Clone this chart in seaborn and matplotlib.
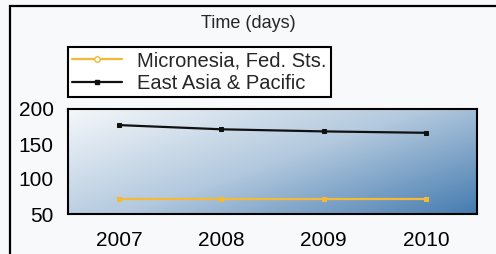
import numpy as np
import pandas as pd
import seaborn as sns
import matplotlib.pyplot as plt
from matplotlib.colors import LinearSegmentedColormap
from matplotlib.patches import Rectangle

# data
years = [2007, 2008, 2009, 2010]
micronesia = [72, 72, 72, 72]
east_asia = [177, 171, 168, 166]
series_names = ['Micronesia, Fed. Sts.', 'East Asia & Pacific']

df = pd.DataFrame({
    'year': years * 2,
    'days': micronesia + east_asia,
    'series': [series_names[0]] * 4 + [series_names[1]] * 4,
})

sns.set_style('white')
plt.rcParams['font.family'] = ['Liberation Sans', 'DejaVu Sans']

fig = plt.figure(figsize=(4.96, 2.54), dpi=100)
fig.patch.set_facecolor('#f8f9fb')

# outer frame
fig.patches.append(Rectangle((10 / 496, -0.05), 1.2, (254 - 6) / 254 + 0.05,
                             transform=fig.transFigure, fill=False,
                             edgecolor='black', lw=1.6))

ax = fig.add_axes([68 / 496, 40 / 254, 409 / 496, 105 / 254])

# diagonal gradient background, light top-left -> steel blue bottom-right
cmap = LinearSegmentedColormap.from_list('bg', ['#f4f7fa', '#b3c9de', '#467cb0'])
xx, yy = np.meshgrid(np.linspace(0, 1, 200), np.linspace(0, 1, 200))
grad = (xx * 0.8 + yy * 0.6) / 1.4
ax.imshow(grad, extent=[0, 1, 0, 1], transform=ax.transAxes, origin='upper',
          aspect='auto', cmap=cmap, zorder=0)

sns.lineplot(data=df, x='year', y='days', hue='series', style='series',
             palette=['#f5b935', '#111111'], markers=['s', 's'], dashes=False,
             markersize=3.2, lw=1.6, ax=ax, legend=False, zorder=3)
for ln in ax.lines:
    ln.set_markeredgecolor(ln.get_color())
    ln.set_markerfacecolor(ln.get_color())

ax.set_xlim(2006.5, 2010.5)
ax.set_ylim(50, 200)
ax.set_xticks(years)
ax.set_yticks([50, 100, 150, 200])
ax.set_xlabel('')
ax.set_ylabel('')
ax.tick_params(axis='both', direction='out', width=1.2, colors='black',
               labelsize=15)
ax.tick_params(axis='x', length=3.6, pad=9)
ax.tick_params(axis='y', length=2.2, pad=8)
for s in ax.spines.values():
    s.set_color('black')
    s.set_linewidth(1.5)

fig.text(0.5, 1 - 24 / 254, 'Time (days)', ha='center', va='center', fontsize=13)

handles = [plt.Line2D([], [], color='#f5b935', marker='o', markersize=4,
                      markerfacecolor='white', lw=1.6),
           plt.Line2D([], [], color='#111111', marker='s', markersize=2.5, lw=1.6)]
leg = fig.legend(handles, series_names, loc='upper left',
                 bbox_to_anchor=(68 / 496, 1 - 47 / 254), fontsize=14.5,
                 frameon=True, fancybox=False, edgecolor='black',
                 framealpha=1, handlelength=2.5, borderpad=0.2,
                 labelspacing=0.2, handletextpad=0.75, borderaxespad=0)
leg.get_frame().set_linewidth(1.5)

fig.savefig('out.png', dpi=100, facecolor=fig.get_facecolor())
